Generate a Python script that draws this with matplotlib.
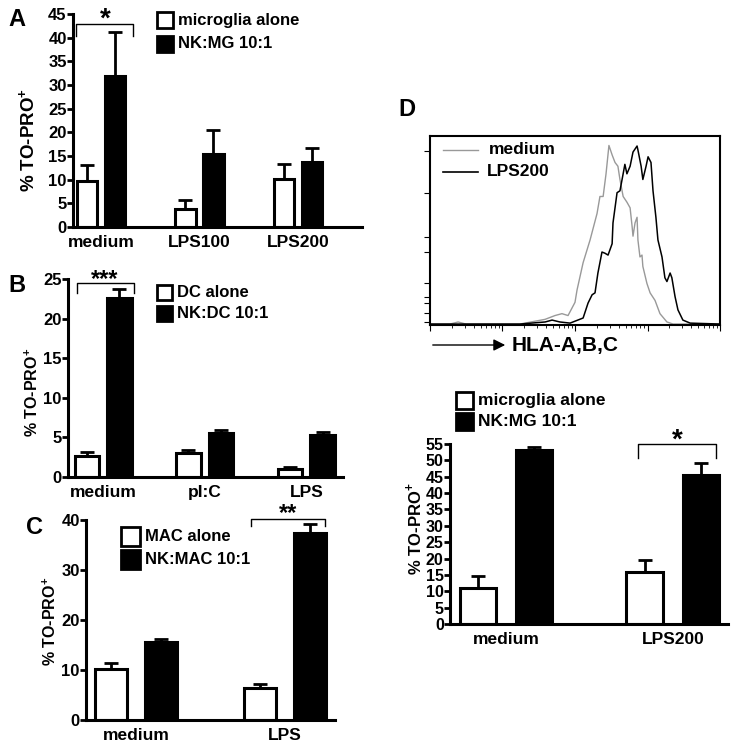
import numpy as np
import matplotlib
matplotlib.use('Agg')
import matplotlib.pyplot as plt
from matplotlib.patches import Rectangle, FancyArrowPatch

plt.rcParams['font.family'] = ['Liberation Sans', 'DejaVu Sans']
plt.rcParams['font.weight'] = 'bold'
plt.rcParams['mathtext.fontset'] = 'custom'
plt.rcParams['mathtext.rm'] = 'Liberation Sans:bold'
plt.rcParams['mathtext.bf'] = 'Liberation Sans:bold'

W, H = 738, 750

# panel A: microglia
a_cats = ['medium', 'LPS100', 'LPS200']
a_alone = [9.7, 3.9, 10.2]
a_alone_err = [3.3, 1.7, 3.1]
a_nk = [32.0, 15.5, 13.8]
a_nk_err = [9.3, 5.0, 2.9]

# panel B: dendritic cells
b_cats = ['medium', 'pI:C', 'LPS']
b_alone = [2.6, 3.0, 1.0]
b_alone_err = [0.5, 0.4, 0.3]
b_nk = [22.6, 5.5, 5.3]
b_nk_err = [1.1, 0.4, 0.4]

# panel C: macrophages
c_cats = ['medium', 'LPS']
c_alone = [10.3, 6.4]
c_alone_err = [1.2, 0.9]
c_nk = [15.7, 37.5]
c_nk_err = [0.6, 1.7]

# panel D: microglia, medium vs LPS200
d_cats = ['medium', 'LPS200']
d_alone = [11.0, 16.0]
d_alone_err = [3.8, 3.5]
d_nk = [53.3, 45.5]
d_nk_err = [0.7, 3.7]

# HLA-A,B,C histogram (channel, % of max)
med_ch = [0, 69, 97, 124, 310, 362, 397, 431, 455, 476, 500, 507, 528, 552, 576, 586, 597, 607,
          617, 628, 638, 648, 655, 666, 679, 690, 697, 700, 707, 714, 717, 724, 731, 734, 748,
          759, 776, 793, 817, 838, 1000]
med_cnt = [0.5, 0.5, 1.6, 0.5, 0.5, 2, 3, 5, 6, 5, 12, 18.5, 33, 45, 59, 68, 68, 80,
           95, 90, 86, 84, 77, 68, 65, 62, 52, 47, 54, 57, 45, 36, 37, 31, 22,
           17, 13, 6, 1.6, 0.5, 0.5]
lps_ch = [0, 310, 397, 421, 448, 483, 528, 545, 559, 569, 579, 593, 603, 614, 628, 631, 645, 655,
          666, 672, 679, 690, 700, 714, 717, 728, 734, 745, 752, 762, 769, 779, 786, 800, 810,
          817, 828, 834, 845, 855, 872, 897, 1000]
lps_cnt = [0.5, 0.5, 1.6, 2.6, 1.6, 1, 3.7, 11.6, 16, 17, 27.5, 38.6, 38, 37, 43, 54, 70, 71,
           80, 85, 80, 84, 91.5, 94.7, 92.6, 84, 77, 84, 89, 86, 71, 57, 45, 36, 25,
           23, 27.5, 25, 15, 8, 2.6, 1, 0.5]
hist_yticks = [1.6, 6.3, 11.6, 15, 22, 38.6, 46.5, 70, 92]


def fig_axes(fig, x0, y0, x1, y1):
    return fig.add_axes([x0 / W, 1 - y1 / H, (x1 - x0) / W, (y1 - y0) / H])


def legend_entry(fig, px, py, size, label, fill, fs=12):
    fig.add_artist(Rectangle((px / W, 1 - (py + size) / H), size / W, size / H,
                             transform=fig.transFigure, facecolor=fill,
                             edgecolor='black', linewidth=2))
    fig.text((px + size + 5) / W, 1 - (py + size / 2) / H, label, fontsize=fs,
             fontweight='bold', va='center', ha='left')


def bar_panel(ax, cats, alone, alone_err, nk, nk_err, off, width, ymax, ystep, tick_fs=12):
    x = np.arange(len(cats))
    ax.errorbar(x - off, alone, yerr=[np.zeros(len(x)), alone_err], fmt='none',
                ecolor='black', elinewidth=2, capsize=5, capthick=2, zorder=1)
    ax.errorbar(x + off, nk, yerr=[np.zeros(len(x)), nk_err], fmt='none',
                ecolor='black', elinewidth=2, capsize=5, capthick=2, zorder=1)
    ax.bar(x - off, alone, width, color='white', edgecolor='black', linewidth=2.2, zorder=2)
    ax.bar(x + off, nk, width, color='black', edgecolor='black', linewidth=2.2, zorder=2)
    ax.set_ylim(0, ymax)
    ax.set_yticks(np.arange(0, ymax + 0.1, ystep))
    ax.set_xticks(x)
    ax.set_xticklabels(cats, fontsize=12.5, fontweight='bold')
    ax.tick_params(axis='x', length=0, pad=6)
    ax.tick_params(axis='y', length=4, width=2, labelsize=tick_fs, pad=0.5)
    for t in ax.get_yticklabels():
        t.set_fontweight('bold')
    for s in ['top', 'right']:
        ax.spines[s].set_visible(False)
    for s in ['left', 'bottom']:
        ax.spines[s].set_linewidth(2.2)


def bracket(ax, x0, x1, y, tip, label, fs=16, dy=0):
    ax.plot([x0, x0, x1, x1], [tip, y, y, tip], color='black', lw=1, clip_on=False)
    ax.text((x0 + x1) / 2, y + dy, label, ha='center', va='bottom', fontsize=fs,
            fontweight='bold', clip_on=False)


def ylab(fig, px, py, fs):
    fig.text(px / W, 1 - py / H, '% TO-PRO$^{+}$', rotation=90, fontsize=fs,
             fontweight='bold', ha='center', va='center')


fig = plt.figure(figsize=(W / 100, H / 100), dpi=100)

# A
axA = fig_axes(fig, 73, 14, 362, 227)
bar_panel(axA, a_cats, a_alone, a_alone_err, a_nk, a_nk_err, 0.142, 0.21, 45, 5)
axA.set_xlim(-0.284, 2.65)
bracket(axA, -0.25, 0.33, 42.9, 40.3, '*', fs=20, dy=-1.8)
legend_entry(fig, 157, 12, 16, 'microglia alone', 'white')
legend_entry(fig, 157, 36, 16, 'NK:MG 10:1', 'black')
ylab(fig, 29, 140, 13.5)
fig.text(8 / W, 1 - 20 / H, 'A', fontsize=17, fontweight='bold', va='center')

# B
axB = fig_axes(fig, 68, 279, 343, 477)
bar_panel(axB, b_cats, b_alone, b_alone_err, b_nk, b_nk_err, 0.16, 0.24, 25, 5)
axB.set_xlim(-0.345, 2.36)
bracket(axB, -0.26, 0.3, 24.5, 23.2, '***', fs=17, dy=-1.0)
legend_entry(fig, 157, 285, 15, 'DC alone', 'white')
legend_entry(fig, 157, 306, 15, 'NK:DC 10:1', 'black')
ylab(fig, 32, 392, 11.5)
fig.text(8 / W, 1 - 285 / H, 'B', fontsize=17, fontweight='bold', va='center')

# C
axC = fig_axes(fig, 86, 520, 335, 720)
bar_panel(axC, c_cats, c_alone, c_alone_err, c_nk, c_nk_err, 0.168, 0.22, 40, 10)
axC.set_xlim(-0.336, 1.336)
bracket(axC, 0.77, 1.27, 40.2, 38.9, '**', fs=17, dy=-1.2)
legend_entry(fig, 121, 527, 19, 'MAC alone', 'white')
legend_entry(fig, 121, 550, 19, 'NK:MAC 10:1', 'black')
ylab(fig, 50, 621, 11.5)
fig.text(26 / W, 1 - 528 / H, 'C', fontsize=17, fontweight='bold', va='center')

# D histogram
axH = fig_axes(fig, 430, 136, 720, 325)
axH.plot(med_ch, med_cnt, color='#999999', lw=1)
axH.plot(lps_ch, lps_cnt, color='black', lw=1.1)
axH.set_xlim(0, 1000)
axH.set_ylim(0, 100)
for s in axH.spines.values():
    s.set_linewidth(1.5)
major = [250 * d for d in range(5)]
minor = [250 * (d + np.log10(k)) for d in range(4) for k in range(2, 10)]
axH.set_xticks(major)
axH.set_xticks(minor, minor=True)
axH.set_yticks(hist_yticks)
axH.tick_params(axis='both', which='both', direction='out', labelbottom=False, labelleft=False)
axH.tick_params(axis='both', which='major', length=4, width=0.8)
axH.tick_params(axis='x', which='minor', length=2, width=0.6)
fig.add_artist(plt.Line2D([443 / W, 478 / W], [1 - 150 / H, 1 - 150 / H], color='#999999', lw=1))
fig.add_artist(plt.Line2D([443 / W, 478 / W], [1 - 172 / H, 1 - 172 / H], color='black', lw=1.2))
fig.text(489 / W, 1 - 150 / H, 'medium', fontsize=12.5, fontweight='bold', va='center')
fig.text(487 / W, 1 - 172 / H, 'LPS200', fontsize=12.5, fontweight='bold', va='center')
fig.text(398 / W, 1 - 110 / H, 'D', fontsize=17, fontweight='bold', va='center')
fig.add_artist(FancyArrowPatch((430 / W, 1 - 345 / H), (508 / W, 1 - 345 / H),
               transform=fig.transFigure, arrowstyle='-|>,head_length=7,head_width=3.5',
               color='black', lw=1, mutation_scale=1))
fig.text(512 / W, 1 - 345 / H, 'HLA-A,B,C', fontsize=15, fontweight='bold', va='center')

# D bars
axD = fig_axes(fig, 450, 444, 728, 624)
bar_panel(axD, d_cats, d_alone, d_alone_err, d_nk, d_nk_err, 0.168, 0.22, 55, 5, tick_fs=11.5)
axD.set_xlim(-0.335, 1.33)
bracket(axD, 0.79, 1.26, 55, 50.7, '*', fs=20, dy=-3)
legend_entry(fig, 456, 392, 17, 'microglia alone', 'white', fs=12.5)
legend_entry(fig, 456, 413, 17, 'NK:MG 10:1', 'black', fs=12.5)
ylab(fig, 414, 529, 12)

fig.savefig('out.png', dpi=100)
